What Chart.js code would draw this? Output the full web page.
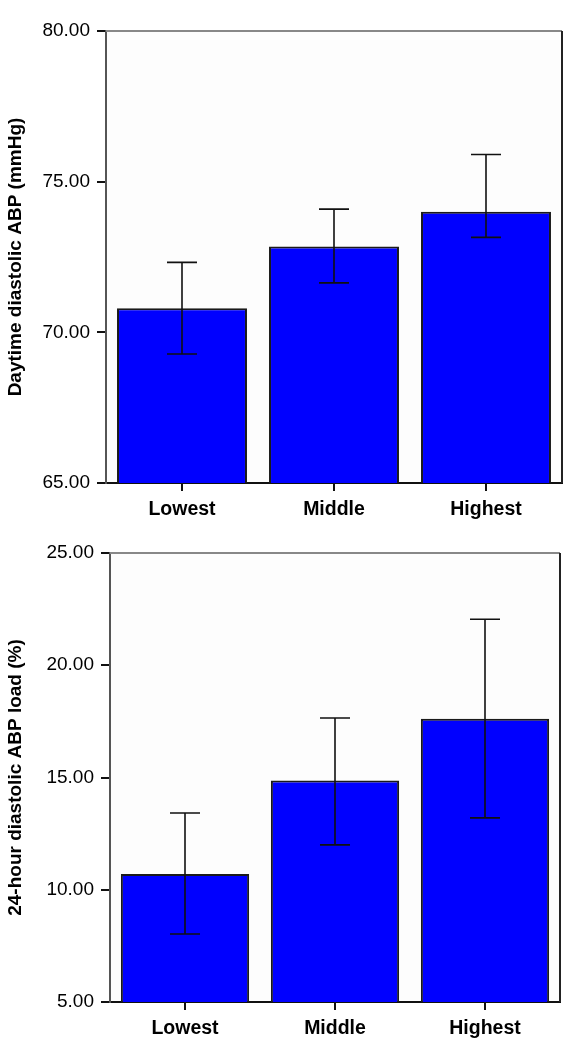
<!DOCTYPE html>
<html>
<head>
<meta charset="utf-8">
<script src="https://cdn.jsdelivr.net/npm/chart.js@4"></script>
<style>
  body { margin: 0; background: #fff; }
  canvas { position: absolute; left: 0; }
  #topChart { top: 0; }
  #bottomChart { top: 525px; }
</style>
</head>
<body>
<canvas id="topChart" width="587" height="525"></canvas>
<canvas id="bottomChart" width="587" height="525"></canvas>
<script>
var groups = ["Lowest", "Middle", "Highest"];

// Daytime diastolic ABP (mmHg)
var dayMeans = [70.8, 72.85, 74.0];
var dayLower = [69.28, 71.64, 73.15];
var dayUpper = [72.32, 74.09, 75.9];
var dayTicks = [65, 70, 75, 80];

// 24-hour diastolic ABP load (%)
var loadMeans = [10.7, 14.87, 17.62];
var loadLower = [8.03, 12.0, 13.2];
var loadUpper = [13.42, 17.65, 22.05];
var loadTicks = [5, 10, 15, 20, 25];

var fontFamily = "'Liberation Sans', Arial, Helvetica, sans-serif";

// draws error bars and the top/right frame lines
var errorBars = {
  id: "errorBars",
  afterDatasetsDraw: function (chart, args, opts) {
    var ctx = chart.ctx;
    var area = chart.chartArea;
    var y = chart.scales.y;
    var meta = chart.getDatasetMeta(0);
    ctx.save();
    ctx.strokeStyle = "#111";
    ctx.lineWidth = 1.6;
    meta.data.forEach(function (bar, i) {
      var x = bar.x;
      var yl = y.getPixelForValue(opts.lower[i]);
      var yh = y.getPixelForValue(opts.upper[i]);
      ctx.beginPath();
      ctx.moveTo(x, yl); ctx.lineTo(x, yh);
      ctx.moveTo(x - 15, yl); ctx.lineTo(x + 15, yl);
      ctx.moveTo(x - 15, yh); ctx.lineTo(x + 15, yh);
      ctx.stroke();
    });
    // frame
    ctx.lineWidth = 2;
    ctx.strokeStyle = "#888";
    ctx.beginPath();
    ctx.moveTo(area.left, area.top);
    ctx.lineTo(area.right, area.top);
    ctx.stroke();
    ctx.strokeStyle = "#222";
    ctx.beginPath();
    ctx.moveTo(area.right, area.top);
    ctx.lineTo(area.right, area.bottom);
    ctx.stroke();
    ctx.restore();
  },
  beforeDraw: function (chart) {
    var a = chart.chartArea;
    chart.ctx.save();
    chart.ctx.fillStyle = "#fdfdfd";
    chart.ctx.fillRect(a.left, a.top, a.right - a.left, a.bottom - a.top);
    chart.ctx.restore();
  }
};

function makeChart(id, means, lower, upper, ticks, title, yWidth, xHeight, padTop, padRight) {
  return new Chart(document.getElementById(id), {
    type: "bar",
    data: {
      labels: groups,
      datasets: [{
        data: means,
        backgroundColor: "#0000ff",
        borderColor: "#1a1a1a",
        borderWidth: 2,
        borderSkipped: false,
        categoryPercentage: 1,
        barPercentage: 0.855
      }]
    },
    options: {
      responsive: false,
      animation: false,
      layout: { padding: { top: padTop, right: padRight, left: 0, bottom: 0 } },
      plugins: {
        legend: { display: false },
        tooltip: { enabled: false },
        errorBars: { lower: lower, upper: upper }
      },
      scales: {
        x: {
          grid: { offset: false, drawOnChartArea: false, drawTicks: true, tickLength: 8, tickColor: "#111", lineWidth: 2 },
          border: { color: "#111", width: 2 },
          ticks: { color: "#000", padding: 7, font: { family: fontFamily, size: 19.5, weight: "bold" } },
          afterFit: function (s) { s.height = xHeight; }
        },
        y: {
          min: ticks[0],
          max: ticks[ticks.length - 1],
          afterBuildTicks: function (s) { s.ticks = ticks.map(function (v) { return { value: v }; }); },
          grid: { drawOnChartArea: false, drawTicks: true, tickLength: 9, tickColor: "#111", lineWidth: 2 },
          border: { color: "#555", width: 2 },
          ticks: {
            color: "#000", padding: 7,
            font: { family: fontFamily, size: 19 },
            callback: function (v) { return Number(v).toFixed(2); }
          },
          title: {
            display: true, text: title, color: "#000",
            font: { family: fontFamily, size: 19, weight: "bold" },
            padding: { top: 4, bottom: 0 }
          },
          afterFit: function (s) { s.width = yWidth; }
        }
      }
    },
    plugins: [errorBars]
  });
}

makeChart("topChart", dayMeans, dayLower, dayUpper, dayTicks,
  "Daytime diastolic ABP (mmHg)", 106, 42, 31, 25);
makeChart("bottomChart", loadMeans, loadLower, loadUpper, loadTicks,
  "24-hour diastolic ABP load (%)", 110, 48, 28, 27);
</script>
</body>
</html>
